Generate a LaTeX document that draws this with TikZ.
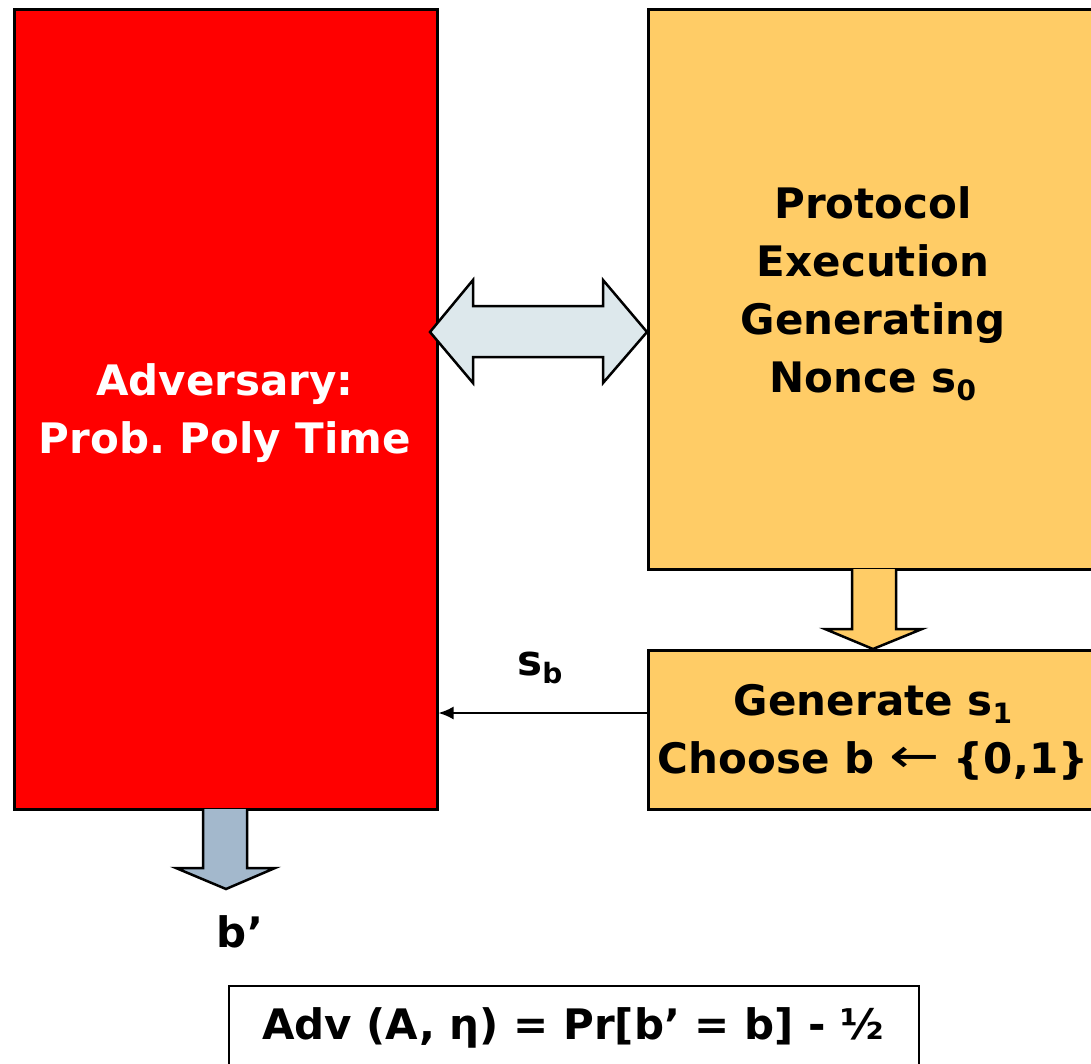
\documentclass[tikz,border=0pt]{standalone}
\usepackage{fontspec}
\setmainfont{DejaVu Sans}
\usetikzlibrary{arrows.meta}
\definecolor{advred}{HTML}{FF0000}
\definecolor{protoorange}{HTML}{FFCC66}
\definecolor{chanblue}{HTML}{DDE8EC}
\definecolor{outgray}{HTML}{A3B8CC}
\newcommand{\lowidx}[1]{\raisebox{-0.35ex}{\fontsize{28}{28}\selectfont #1}}
\newcommand{\thinleft}{\raisebox{0.05ex}{\scalebox{1.5}[1.2]{\mdseries\fontsize{40}{40}\selectfont ←}}}
\frenchspacing
\tikzset{
  box/.style={draw=black, line width=2.5pt, inner sep=0pt},
  lbl/.style={font=\fontsize{42}{58}\selectfont\bfseries, align=center},
  blockarrow/.style={draw=black, line width=2.5pt, line join=miter},
}
\begin{document}
\begin{tikzpicture}[x=1pt,y=-1pt]
\useasboundingbox (0,0) rectangle (1091,1063);
% adversary
\node[box, fill=advred, minimum width=423pt, minimum height=800pt, anchor=north west] (adv) at (13,8) {};
\node[lbl, text=white] (advtxt) at (225,413) {Adversary:\\Prob. Poly Time};
% protocol execution
\node[box, fill=protoorange, minimum width=450pt, minimum height=560pt, anchor=north west] (proto) at (647,8) {};
\node[lbl] (prototxt) at (873,294) {Protocol\\Execution\\Generating\\Nonce s\lowidx{0}};
% challenge generation
\node[box, fill=protoorange, minimum width=450pt, minimum height=159pt, anchor=north west] (gen) at (647,649) {};
\node[lbl] (gentxt) at (873,732) {Generate s\lowidx{1}\\Choose b \thinleft\ \{0,1\}};
% interaction channel (double block arrow)
\draw[blockarrow, fill=chanblue] (430,332) -- (473,280) -- (473,306) -- (603,306) -- (603,280) -- (647,332)
  -- (603,383) -- (603,357) -- (473,357) -- (473,383) -- cycle;
% protocol to generator (block arrow)
\draw[blockarrow, fill=protoorange] (852,569) -- (852,629) -- (825,629) -- (873,649) -- (922,629) -- (896,629) -- (896,569);
% adversary output (block arrow)
\draw[blockarrow, fill=outgray] (203,809) -- (203,868) -- (176,868) -- (226,889) -- (275,868) -- (247,868) -- (247,809);
\node[lbl] (bprime) at (240,932) {b’};
% challenge sent to adversary
\draw[line width=2pt, -{Latex[length=15pt,width=13pt]}] (gen.west |- 0,713) -- (adv.east |- 0,713);
\node[lbl] (sb) at (540,668) {s\lowidx{b}};
% advantage
\node[box, draw=black, line width=2pt, fill=white, minimum width=690pt, minimum height=95pt, anchor=north west] (advbox) at (228,985) {};
\node[lbl] (advform) at (573,1028) {Adv (A, η) = Pr[b’ = b] - ½};
\end{tikzpicture}
\end{document}
